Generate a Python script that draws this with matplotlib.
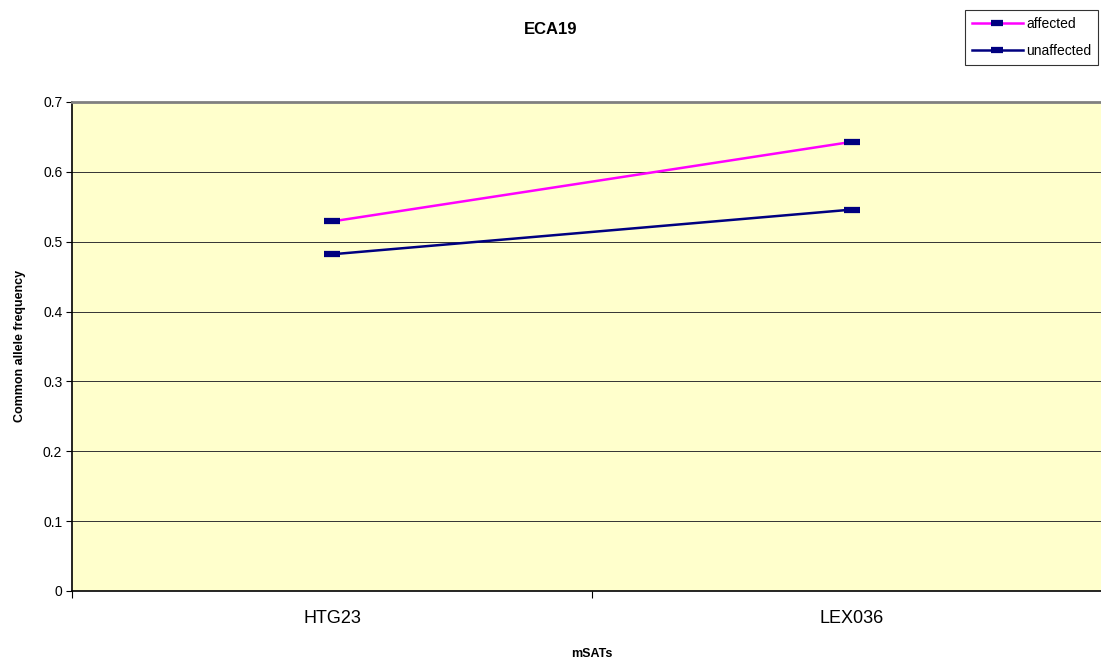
import matplotlib
matplotlib.use("Agg")

import matplotlib.pyplot as plt
import numpy as np

plt.rcParams["font.family"] = ["Liberation Sans", "DejaVu Sans"]

markers = ["HTG23", "LEX036"]
affected = [0.529, 0.643]
unaffected = [0.482, 0.546]
y_ticks = [0, 0.1, 0.2, 0.3, 0.4, 0.5, 0.6, 0.7]
y_tick_labels = ["0", "0.1", "0.2", "0.3", "0.4", "0.5", "0.6", "0.7"]

fig = plt.figure(figsize=(11.01, 6.64), dpi=100)
ax = fig.add_axes([72 / 1101, 73 / 664, 1040 / 1101, 489 / 664])
ax.set_facecolor("#FFFFCC")

x = np.arange(len(markers)) + 0.5

ax.plot(x, affected, color="#FF00FF", linewidth=1.8, marker="_",
        markersize=11.5, markeredgewidth=4.5, markeredgecolor="#000080",
        label="affected", zorder=3)
ax.plot(x, unaffected, color="#000080", linewidth=1.8, marker="_",
        markersize=11.5, markeredgewidth=4.5, markeredgecolor="#000080",
        label="unaffected", zorder=3)

ax.set_xlim(0, len(markers))
ax.set_ylim(0, 0.7)

ax.set_yticks(y_ticks)
ax.set_yticklabels(y_tick_labels, fontsize=10)
ax.yaxis.grid(True, color="#333333", linewidth=0.7)
ax.set_axisbelow(True)

ax.set_xticks(np.arange(len(markers) + 1))
ax.set_xticklabels([])
ax.set_xticks(x, minor=True)
ax.set_xticklabels(markers, minor=True, fontsize=13)
ax.tick_params(axis="x", which="minor", length=0, pad=14)
ax.tick_params(axis="x", which="major", length=5, direction="out", color="black")
ax.tick_params(axis="y", length=4, direction="out", color="black", pad=3)

for side in ["left", "bottom"]:
    ax.spines[side].set_color("black")
    ax.spines[side].set_linewidth(1.2)
ax.spines["top"].set_color("#808080")
ax.spines["top"].set_linewidth(2)
ax.spines["right"].set_color("#808080")

ax.set_xlabel("mSATs", fontsize=9, fontweight="bold", labelpad=15)
fig.text(20 / 1101, 1 - 346 / 664, "Common allele frequency", rotation=90,
         ha="center", va="center", fontsize=9, fontweight="bold")

fig.text(0.5, 1 - 30 / 664, "ECA19", ha="center", va="center",
         fontsize=12, fontweight="bold")

leg = fig.legend(loc="upper right", bbox_to_anchor=(1098 / 1101, 1 - 10 / 664),
                 fontsize=10, frameon=True, fancybox=False, handlelength=3.7,
                 handletextpad=0.2, borderpad=0.5, labelspacing=0.95,
                 markerscale=0.7, borderaxespad=0)
leg.get_frame().set_edgecolor("black")
leg.get_frame().set_linewidth(0.8)

fig.savefig("out.png", dpi=100)
